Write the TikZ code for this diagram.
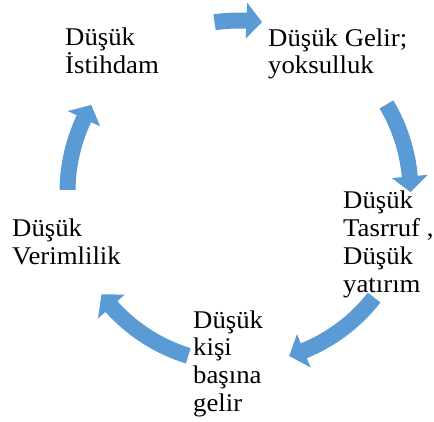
\documentclass[tikz,border=0pt]{standalone}
\usepackage{fontspec}
\setmainfont{Liberation Serif}[FakeStretch=1.05]
\usetikzlibrary{calc}
\definecolor{arrowblue}{HTML}{5B9BD5}
% curved block arrow on the cycle: #1 = start angle, #2 = tip angle (clockwise)
\newcommand\cycarrow[3]{%
  \pgfmathsetmacro\hb{#2+5.2}%
  \coordinate (#3-tail) at ($(c)+(#1:171.5)$);
  \coordinate (#3-tip) at ($(c)+(#2:171.5)$);
  \fill[arrowblue] ($(c)+(#1:179.5)$) arc[start angle=#1, end angle=\hb, radius=179.5]
    -- ($(c)+(\hb:189.5)$) -- (#3-tip) -- ($(c)+(\hb:153.5)$)
    -- ($(c)+(\hb:163.5)$) arc[start angle=\hb, end angle=#1, radius=163.5] -- cycle;}
\begin{document}
\begin{tikzpicture}[x=1pt,y=1pt,
  lbl/.style={align=left, anchor=base west, inner sep=0pt, font=\fontsize{25.5}{27.7}\selectfont}]
\useasboundingbox (0,0) rectangle (434,421);
\coordinate (c) at (239,229);
% texts (anchor = baseline of last line)
\node[lbl] (istihdam) at (65,347.7) {Düşük\\İstihdam};
\node[lbl] (gelir) at (268,347) {Düşük Gelir;\\yoksulluk};
\node[lbl] (tasarruf) at (343,129) {Düşük\\Tasrruf ,\\Düşük\\yatırım};
\node[lbl] (kisi) at (193,9.9) {Düşük\\kişi\\başına\\gelir};
\node[lbl] (verim) at (12,156.6) {Düşük\\Verimlilik};
% arrows
\cycarrow{98.2}{82.3}{a1}
\cycarrow{30.7}{0}{a2}
\cycarrow{-38}{-73}{a3}
\cycarrow{252.8}{216.7}{a4}
\cycarrow{179.3}{149.5}{a5}
\end{tikzpicture}
\end{document}
